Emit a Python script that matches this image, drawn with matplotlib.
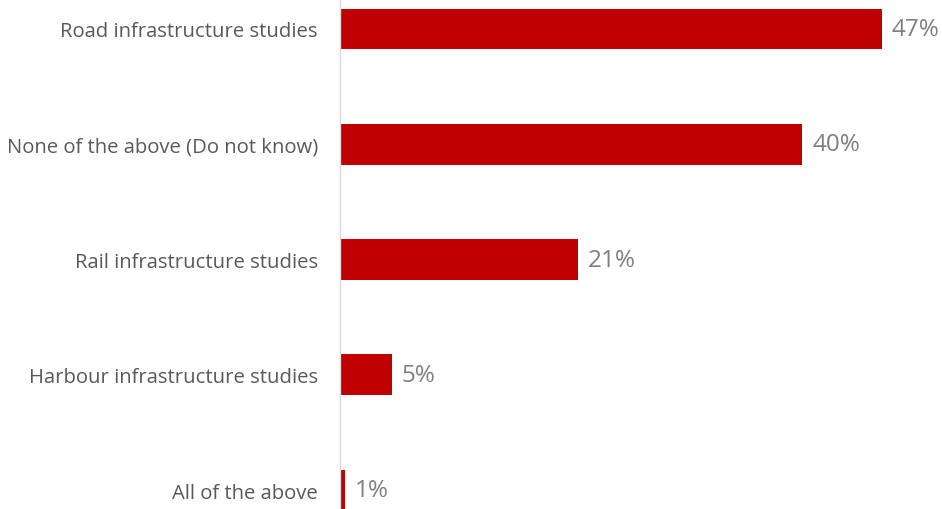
import matplotlib.pyplot as plt

categories = ["Road infrastructure studies", "None of the above (Do not know)",
              "Rail infrastructure studies", "Harbour infrastructure studies",
              "All of the above"]
values = [47.0, 40.1, 20.6, 4.5, 0.45]
labels = ["47%", "40%", "21%", "5%", "1%"]

plt.rcParams['font.family'] = ['Open Sans', 'DejaVu Sans']

fig = plt.figure(figsize=(9.42, 5.1), dpi=100)
ax = fig.add_axes([340 / 942, 0, 1 - 340 / 942, 1])

y = list(range(len(categories)))
ax.barh(y, values, height=0.355, color="#C00000")
for yi, v, lab in zip(y, values, labels):
    ax.annotate(lab, (v, yi), xytext=(7, 0), textcoords="offset points",
                va="center", ha="left", fontsize=17.5, color="#7F7F7F")

ax.set_xlim(0, 52.2)
ax.set_ylim(4.164, -0.26)
ax.set_yticks(y)
ax.set_yticklabels(categories, fontsize=14.6, color="#595959")
ax.tick_params(axis="y", length=0, pad=16)
ax.set_xticks([])
for s in ["top", "right", "bottom"]:
    ax.spines[s].set_visible(False)
ax.spines["left"].set_color("#D9D9D9")
ax.spines["left"].set_linewidth(1)

fig.savefig("out.png", dpi=100)
